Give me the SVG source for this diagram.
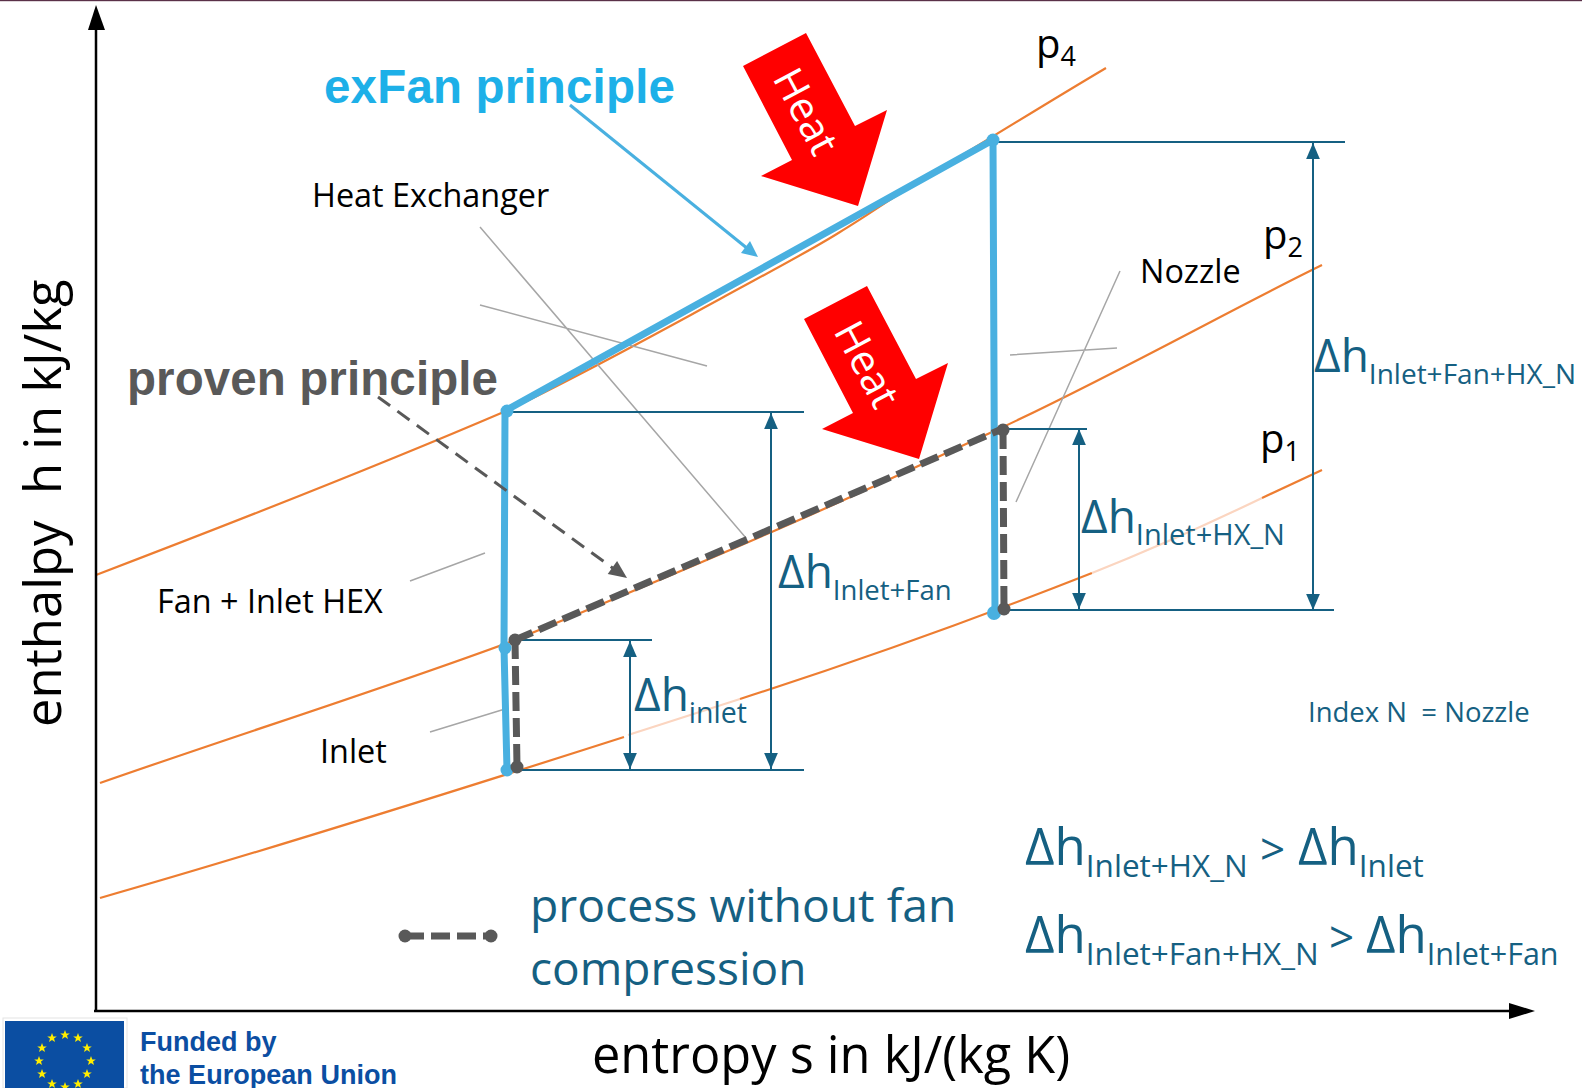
<svg xmlns="http://www.w3.org/2000/svg" width="1582" height="1088" viewBox="0 0 1582 1088">
<style>
text{font-family:"Open Sans","Noto Sans","Liberation Sans",sans-serif;white-space:pre}
.k{fill:#000}
.t{fill:#156082}
.o{fill:none;stroke:#ED7D31;stroke-width:2.2}
.f{fill:none;stroke:#FBD5C0;stroke-width:2.2}
.d{fill:none;stroke:#156082;stroke-width:2}
.a{fill:none;stroke:#156082;stroke-width:2;marker-start:url(#dimS);marker-end:url(#dimE)}
.g{fill:none;stroke:#A6A6A6;stroke-width:1.5}
.b{fill:none;stroke:#49B0E0;stroke-width:7}
.p{fill:none;stroke:#595959;stroke-width:7;stroke-dasharray:19 7}
.bd{fill:#49B0E0}
.pd{fill:#595959}
.big{font-size:46px}
.eq{font-size:51px}
.s{font-size:31.5px}
.l{font-size:32.4px;fill:#000}
.h{font-family:"Liberation Sans",sans-serif;font-weight:700}
</style>
<defs>
<marker id="dimE" markerWidth="16" markerHeight="18" refX="14" refY="6" orient="auto" markerUnits="userSpaceOnUse" viewBox="0 0 14 12"><path d="M0 0L14 6L0 12Z" fill="#156082"/></marker>
<marker id="dimS" markerWidth="16" markerHeight="18" refX="0" refY="6" orient="auto" markerUnits="userSpaceOnUse" viewBox="0 0 14 12"><path d="M14 0L0 6L14 12Z" fill="#156082"/></marker>
<polygon id="star" points="0,-5 1.3,-1.6 4.8,-1.5 2,0.6 3,4 0,2 -3,4 -2,0.6 -4.8,-1.5 -1.3,-1.6" fill="#FFED00"/>
</defs>
<rect width="1582" height="1088" fill="#fff"/>
<rect width="1582" height="1.2" fill="#5a3048"/>

<g id="isobars">
<path class="o" d="M96 575C240 520 380 465 506 411C580 376 650 337 720 299C760 277 810 251 840 232C860 220 885 203 905 190C950 163 1040 107 1106 68"/>
<path class="o" d="M100 783C240 734 380 690 510 642C600 605 680 572 760 537C840 503 920 465 1003 427C1120 372 1230 310 1322 265"/>
<path class="o" d="M100 898C240 858 380 815 624 737"/>
<path class="f" d="M628 735C665 723 700 712 740 699"/>
<path class="o" d="M740 699C830 670 960 625 1092 573"/>
<path class="f" d="M1092 573C1150 550 1210 523 1262 498"/>
<path class="o" d="M1262 498L1322 470"/>
</g>

<g id="connectors">
<path d="M96 1011V28" fill="none" stroke="#000" stroke-width="2.5"/>
<path d="M96 5L88 30H105Z" fill="#000"/>
<path d="M94 1011H1512" fill="none" stroke="#000" stroke-width="2.5"/>
<path d="M1535 1011L1509 1003V1019Z" fill="#000"/>
<path class="g" d="M480 227L746 538M480 305L707 366M1120 271L1016 502M1010 355L1117 348M410 581L485 553M430 732L505 709"/>
<path class="d" d="M993 142H1345M506 412H804M515 640H652M517 770H804M1003 429H1087M1004 610H1334"/>
<path class="a" d="M1313 143V610"/>
<path class="a" d="M771 413V769"/>
<path class="a" d="M630 641V769"/>
<path class="a" d="M1079 429V609"/>
<path class="b" d="M505 411L993 140L995 613M505 411L504 648L507 770"/>
<path class="p" d="M515 640L1002 429"/>
<path class="p" d="M1003 430L1004 610"/>
<path class="p" d="M515 640L517 767"/>
<circle class="bd" cx="507" cy="411" r="6.5"/><circle class="bd" cx="993" cy="140" r="6.5"/><circle class="bd" cx="994" cy="613" r="7"/><circle class="bd" cx="505" cy="648" r="6.5"/><circle class="bd" cx="507" cy="770" r="6.5"/>
<circle class="pd" cx="515" cy="640" r="6.5"/><circle class="pd" cx="517" cy="767" r="6.5"/><circle class="pd" cx="1003" cy="430" r="6.5"/><circle class="pd" cx="1004" cy="609" r="6.5"/>
<path d="M570 105L748 249" fill="none" stroke="#49B0E0" stroke-width="3"/>
<path d="M758 257L741 253L750 241Z" fill="#49B0E0"/>
<path d="M378 397L614 569" fill="none" stroke="#595959" stroke-width="3" stroke-dasharray="15 9"/>
<path d="M627 578L607.7 573.9L617.1 560.9Z" fill="#595959"/>
<path class="p" d="M405 936H490"/>
<circle class="pd" cx="405" cy="936" r="6.5"/><circle class="pd" cx="491" cy="936" r="6.5"/>
</g>

<g id="heat1">
<polygon points="743,66 806,33 855,126 887,110 858,206 761,176 792,160" fill="#f00"/>
<text transform="translate(772,78) rotate(62)" font-size="41" fill="#fff">Heat</text>
</g>
<g id="heat2">
<polygon points="804,319 867,286 916,379 948,363 919,459 822,429 853,413" fill="#f00"/>
<text transform="translate(833,331) rotate(62)" font-size="41" fill="#fff">Heat</text>
</g>

<g id="labels">
<text x="324" y="103" font-size="47.5" class="h" fill="#1DB0E8" textLength="351" lengthAdjust="spacing">exFan principle</text>
<text x="127" y="395" font-size="47.5" class="h" fill="#595959" textLength="371" lengthAdjust="spacing">proven principle</text>
<text x="312" y="207" class="l">Heat Exchanger</text>
<text x="1140" y="283" class="l">Nozzle</text>
<text x="157" y="613" class="l">Fan + Inlet HEX</text>
<text x="320" y="763" class="l">Inlet</text>
<text x="1036" y="58" font-size="40" class="k">p<tspan font-size="27" dy="8">4</tspan></text>
<text x="1263" y="249" font-size="40" class="k">p<tspan font-size="27" dy="8">2</tspan></text>
<text x="1260" y="453" font-size="40" class="k">p<tspan font-size="27" dy="8">1</tspan></text>
<text transform="translate(61,727) rotate(-90)" font-size="50.8" class="k">enthalpy  h in kJ/kg</text>
<text x="592" y="1073" font-size="50.5" class="k">entropy s in kJ/(kg K)</text>
<text x="1314" y="372" class="t big">Δh<tspan font-size="28" dy="12">Inlet+Fan+HX_N</tspan></text>
<text x="1081" y="533" class="t big">Δh<tspan font-size="29" dy="12">Inlet+HX_N</tspan></text>
<text x="778" y="588" class="t big">Δh<tspan font-size="27.5" dy="12">Inlet+Fan</tspan></text>
<text x="634" y="711" class="t big">Δh<tspan font-size="28.5" dy="12">inlet</tspan></text>
<text x="1308" y="722" font-size="27.5" class="t">Index N  = Nozzle</text>
<text x="1025" y="865" class="t eq">Δh<tspan class="s" dy="12">Inlet+HX_N</tspan><tspan x="1260" dy="-12" font-size="44">&gt;</tspan><tspan x="1298">Δh</tspan><tspan class="s" dy="12">Inlet</tspan></text>
<text x="1025" y="953" class="t eq">Δh<tspan class="s" dy="12">Inlet+Fan+HX_N</tspan><tspan x="1329" dy="-12" font-size="44">&gt;</tspan><tspan x="1366">Δh</tspan><tspan style="font-size:30.5px" dy="12">Inlet+Fan</tspan></text>
<text x="530" y="922" font-size="46.3" class="t">process without fan</text>
<text x="530" y="985" font-size="46" class="t">compression</text>
</g>

<g id="eu-logo">
<rect x="3" y="1018" width="124" height="70" fill="#fff" stroke="#e4e4e4"/>
<rect x="5" y="1021" width="119" height="67" fill="#0B4EA2"/>
<use href="#star" x="65" y="1035"/><use href="#star" x="78" y="1038"/><use href="#star" x="87" y="1048"/><use href="#star" x="91" y="1061"/><use href="#star" x="87" y="1074"/><use href="#star" x="78" y="1084"/><use href="#star" x="65" y="1087"/><use href="#star" x="52" y="1084"/><use href="#star" x="42" y="1074"/><use href="#star" x="39" y="1061"/><use href="#star" x="42" y="1048"/><use href="#star" x="52" y="1038"/>
<text x="140" y="1051" font-size="27" class="h" fill="#0B4EA2">Funded by</text>
<text x="140" y="1084" font-size="27" class="h" fill="#0B4EA2" textLength="257" lengthAdjust="spacing">the European Union</text>
</g>
</svg>
